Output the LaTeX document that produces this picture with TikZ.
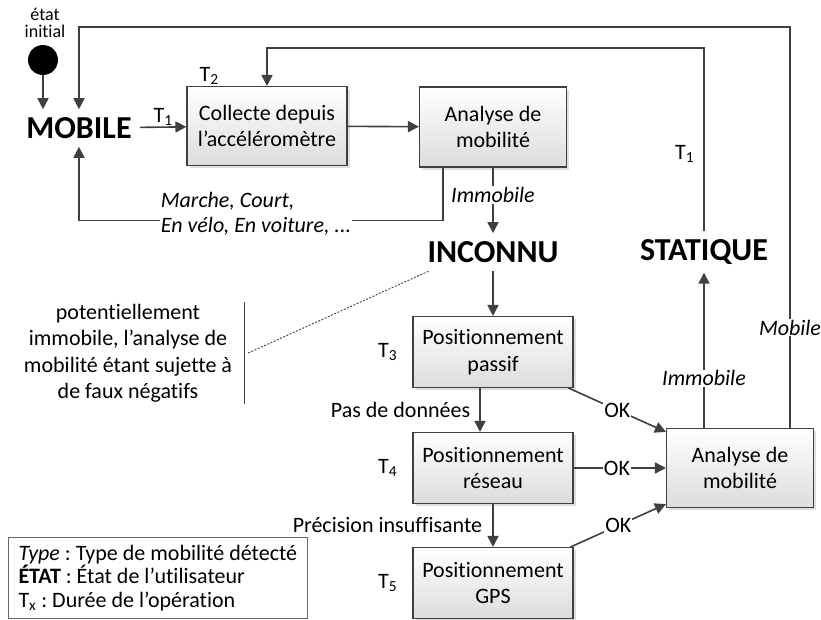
\documentclass[tikz,border=0pt]{standalone}
\usepackage{fontspec}
\setmainfont{Carlito}[Ligatures=NoCommon]
\usetikzlibrary{arrows.meta,positioning,shadows,calc}
\definecolor{linegray}{RGB}{64,64,64}
\definecolor{boxgray}{RGB}{220,220,220}
\frenchspacing

\begin{document}
\begin{tikzpicture}[x=1pt, y=-1pt,
    font=\fontsize{22}{26.5}\selectfont,
    box/.style={draw=linegray, line width=1.1pt, top color=white, bottom color=boxgray, minimum width=160pt, minimum height=71pt, align=center, inner sep=2pt, drop shadow={shadow xshift=2.5pt, shadow yshift=-2.5pt, fill=black!25}},
    etat/.style={font=\fontsize{32}{36}\selectfont\bfseries, inner sep=8pt},
    lbl/.style={fill=white, inner sep=1pt},
    tlabel/.style={inner sep=1pt},
    arrow/.style={-{Triangle[length=11pt, width=11pt]}, line width=1.6pt, draw=linegray}
]
    \useasboundingbox (0,0) rectangle (821,619);
    \coordinate (outertop) at (0,27);
    \coordinate (innertop) at (0,48);

    % states and initial point
    \node[circle, fill=black, minimum size=30pt, inner sep=0pt] (init) at (43,60) {};
    \node[align=center, font=\fontsize{18}{17}\selectfont, inner sep=0pt] (initlbl) at (45,23) {état\\initial};
    \node[etat] (mobile) at (79,128) {MOBILE};
    \node[etat] (inconnu) at (493,252) {INCONNU};
    \node[etat] (statique) at (704,252) {STATIQUE};

    % processing boxes
    \node[box, minimum height=79pt] (collecte) at (267,126) {Collecte depuis\\l’accéléromètre};
    \node[box, minimum width=147pt, minimum height=80pt] (analyse1) at (493,127) {Analyse de\\mobilité};
    \node[box] (passif) at (493,352) {Positionnement\\passif};
    \node[box] (reseau) at (493,468) {Positionnement\\réseau};
    \node[box] (gps) at (493,583) {Positionnement\\GPS};
    \node[box, minimum width=147pt, minimum height=79pt] (analyse2) at (740,468) {Analyse de\\mobilité};

    % durations
    \node[tlabel, anchor=south west] (t2) at ([xshift=12pt]collecte.north west) {T\textsubscript{2}};
    \node[tlabel, left=14pt of passif] (t3) {T\textsubscript{3}};
    \node[tlabel, left=14pt of reseau] (t4) {T\textsubscript{4}};
    \node[tlabel, left=14pt of gps] (t5) {T\textsubscript{5}};

    % upper loop
    \draw[arrow] (init.south) -- (init.south |- mobile.north);
    \draw[arrow] (mobile) -- node[tlabel, above] (t1a) {T\textsubscript{1}} (collecte);
    \draw[arrow] (collecte) -- (analyse1);
    \draw[arrow] (analyse1) -- node[lbl, pos=0.42] (immo1) {\textit{Immobile}} (inconnu);
    \draw[arrow] ([xshift=-50pt]analyse1.south) -- ++(0,53) -| (mobile.south);
    \node[lbl, align=left, font=\fontsize{22}{25}\selectfont\itshape] (types) at (256,214) {Marche, Court,\\En vélo, En voiture, ...};
    \draw[arrow] ([xshift=50pt]analyse2.north) -- node[lbl, pos=0.25] (mob) {\textit{Mobile}} ([xshift=50pt]analyse2.north |- outertop) -| (mobile.north);
    \draw[arrow] (statique.north) -- node[tlabel, left=8pt, pos=0.42] (t1b) {T\textsubscript{1}} (statique.north |- innertop) -| (collecte.north);

    % positioning chain
    \draw[arrow] (inconnu) -- (passif);
    \draw[arrow] ([xshift=-13pt]passif.south) -- node[tlabel, left=8pt] (pasdon) {Pas de données} ([xshift=-13pt]reseau.north);
    \draw[arrow] (reseau) -- node[tlabel, left=9pt] (precis) {Précision insuffisante} (gps);
    \draw[arrow] ([xshift=-5pt]passif.south east) -- node[lbl] (ok1) {OK} ([yshift=-4pt]analyse2.north west);
    \draw[arrow] (reseau) -- node[lbl, pos=0.47] (ok2) {OK} (analyse2);
    \draw[arrow] ([xshift=-3pt]gps.north east) -- node[lbl] (ok3) {OK} ([yshift=4pt]analyse2.south west);
    \draw[arrow] (statique.south |- analyse2.north) -- node[lbl, pos=0.32] (immo2) {\textit{Immobile}} (statique.south);

    % note on INCONNU
    \node[align=center, inner xsep=12pt, inner ysep=2pt] (note) at (128,353) {potentiellement\\immobile, l’analyse de\\mobilité étant sujette à\\de faux négatifs};
    \draw[linegray, line width=1.2pt] (note.north east) -- (note.south east);
    \draw[linegray, line width=0.9pt, dash pattern=on 2pt off 1.5pt] ([xshift=4pt]note.east) -- ([xshift=10pt]inconnu.south west);

    % legend
    \node[draw=linegray!80, line width=1pt, align=left, anchor=north west, font=\fontsize{22}{23.5}\selectfont, inner xsep=10pt, minimum height=81pt] (legende) at (8,537) {\textit{Type} : Type de mobilité détecté\\\textbf{ÉTAT} : État de l’utilisateur\\T\textsubscript{x} : Durée de l’opération};
\end{tikzpicture}
\end{document}
